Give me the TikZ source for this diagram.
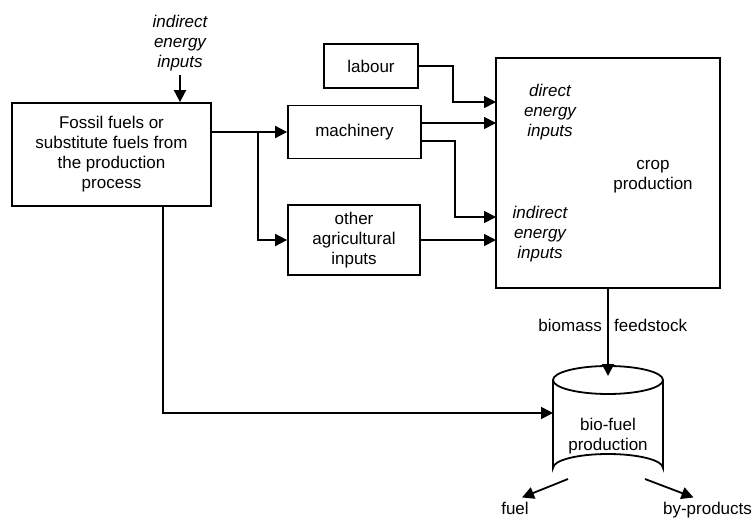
\documentclass[tikz,border=0pt]{standalone}
\usepackage{fontspec}
\setmainfont{Liberation Sans}
\usetikzlibrary{arrows.meta}

\tikzset{
	box/.style={draw, align=center, inner sep=0pt},
	arr/.style={-{Triangle[length=12pt,width=12pt]}},
	note/.style={align=center, font=\fontsize{17}{20}\selectfont\itshape}
}

\begin{document}
\begin{tikzpicture}[x=1pt, y=-1pt, line width=1.8pt, font=\fontsize{17}{20}\selectfont]
	\useasboundingbox (0,0) rectangle (752,519);

	\coordinate (split) at (258,132);
	\coordinate (fossilout) at (163,206);
	\coordinate (in1) at (496,102);
	\coordinate (in2) at (496,123);
	\coordinate (in3) at (496,217);
	\coordinate (in4) at (496,240);
	\coordinate (feedin) at (608,376);
	\coordinate (bioin) at (553,413);
	\coordinate (fuelout) at (568,479);
	\coordinate (prodout) at (645,479);
	\coordinate (cyltop) at (608,380);
	\coordinate (cylbottom) at (608,468);

	\node[note] (indirecttop) at (180,43) {indirect\\energy\\inputs};
	\node[box, minimum width=199pt, minimum height=103pt] (fossil) at (111.5,154.5) {Fossil fuels or\\substitute fuels from\\the production\\process};
	\node[box, minimum width=94pt, minimum height=44pt] (labour) at (371,66) {labour};
	\node[box, minimum width=133pt, minimum height=53pt] (machinery) at (354.5,132) {machinery};
	\node[box, minimum width=132pt, minimum height=70pt] (other) at (354,240) {other\\agricultural\\inputs};
	\node[box, minimum width=224pt, minimum height=230pt] (crop) at (608,173) {};
	\node[note] (direct) at (550,112) {direct\\energy\\inputs};
	\node[note] (indirect) at (540,234) {indirect\\energy\\inputs};
	\node[align=center] (cropname) at (653,177) {crop\\production};
	\node[anchor=east] (biomass) at (606,325) {biomass};
	\node[anchor=west] (feedstock) at (610,325) {feedstock};
	\node[align=center] (bioname) at (608,436) {bio-fuel\\production};
	\node[anchor=base] (fuel) at (515,514) {fuel};
	\node[anchor=base] (byprod) at (707.5,514) {by-products};

	\draw (cyltop) ellipse [x radius=55, y radius=14];
	\draw ([xshift=-55pt]cyltop) -- ([xshift=-55pt]cylbottom) arc[start angle=180, end angle=360, x radius=55, y radius=14] -- ([xshift=55pt]cyltop);

	\draw[arr] (indirecttop.south) -- (indirecttop.south |- fossil.north);
	\draw[arr] (fossil.east |- machinery.west) -- (machinery.west);
	\draw[arr] (split) |- (other.west);
	\draw[arr] (fossilout) |- (bioin);

	\draw[arr] (labour.east) -- ++(34,0) |- (in1);
	\draw[arr] ([yshift=9pt]machinery.east) -- (in2);
	\draw[arr] ([yshift=-9pt]machinery.east) -- ++(33,0) |- (in3);
	\draw[arr] (other.east) -- (in4);

	\draw[arr] (crop.south) -- (feedin);
	\draw[arr] (fuelout) -- ([xshift=7pt]fuel.north);
	\draw[arr] (prodout) -- ([xshift=-14pt]byprod.north);
\end{tikzpicture}
\end{document}
